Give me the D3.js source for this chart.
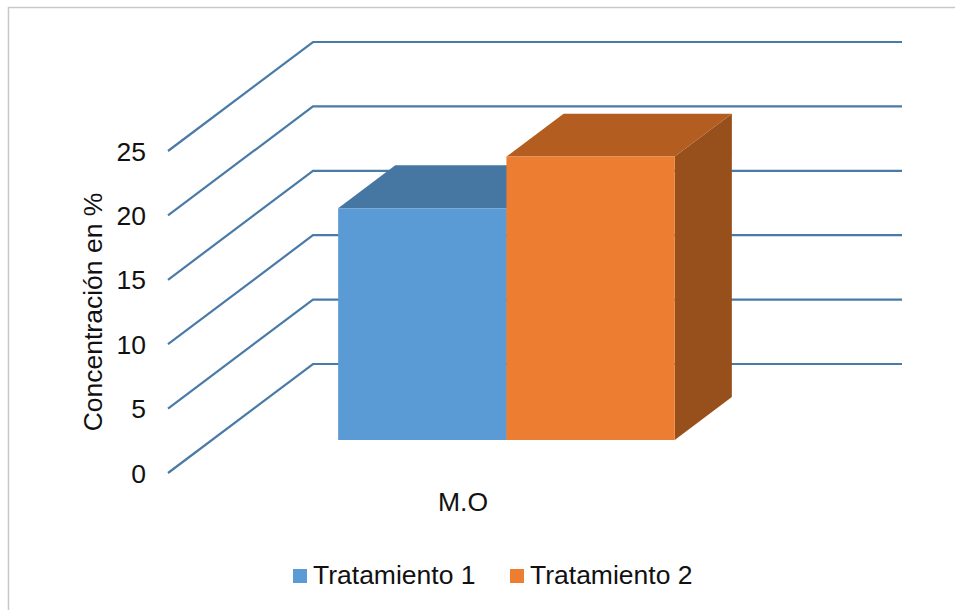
<!DOCTYPE html>
<html><head><meta charset="utf-8">
<script src="https://cdn.jsdelivr.net/npm/d3@7"></script>
<style>html,body{margin:0;padding:0;background:#fff}svg{display:block}text{font-family:"Liberation Sans",Arial,sans-serif;fill:#111}</style>
</head><body><svg id="c" width="955" height="610"></svg>
<script>
const categories = ["M.O"];
const seriesNames = ["Tratamiento 1", "Tratamiento 2"];
const tratamiento1 = [18];
const tratamiento2 = [22];
const tickValues = [0, 5, 10, 15, 20, 25];
const axisTitle = "Concentración en %";
const faceColors = ["#5b9bd5", "#ed7d31"];
const topColors = ["#4676a2", "#b35e20"];
const sideColors = ["#3d6a94", "#97501b"];

const svg = d3.select("#c");
const W = 955, H = 610;
svg.append("rect").attr("width", W).attr("height", H).attr("fill", "#fff");
svg.append("path").attr("d", "M8.5 610V7.5H955").attr("fill", "none").attr("stroke", "#c8c8c8").attr("stroke-width", 1.5);

const y = d3.scaleLinear().domain([0, 25]).range([473, 151]);
const x = d3.scaleLinear().domain([0, 1]).range([168, 757]);
const band = d3.scaleBand().domain(categories).range([0, 1]);
const inner = d3.scaleBand().domain(seriesNames).range([0, band.bandwidth()]).paddingOuter(0.75).paddingInner(0);
const depth = d3.scaleLinear().domain([0, 1]);
const dx = depth.copy().range([0, 145]);
const dy = depth.copy().range([0, -109]);
const px = (u, z) => x(u) + dx(z);
const py = (v, z) => y(v) + dy(z);

const line = d3.line();
svg.append("g").selectAll("path").data(tickValues).join("path")
  .attr("d", v => line([[px(0, 0), py(v, 0)], [px(0, 1), py(v, 1)], [px(1, 1), py(v, 1)]]))
  .attr("fill", "none").attr("stroke", "#4a7ba8").attr("stroke-width", 2.2);

const zFront = 0.303, zBack = 0.697;
const poly = pts => "M" + pts.map(p => p.join(",")).join("L") + "Z";
const data = [tratamiento1[0], tratamiento2[0]];
const bars = svg.append("g");
data.forEach((v, i) => {
  const name = seriesNames[i];
  const u0 = inner(name), u1 = u0 + inner.bandwidth();
  const side = [[px(u1, zFront), py(0, zFront)], [px(u1, zBack), py(0, zBack)], [px(u1, zBack), py(v, zBack)], [px(u1, zFront), py(v, zFront)]];
  const top = [[px(u0, zFront), py(v, zFront)], [px(u0, zBack), py(v, zBack)], [px(u1, zBack), py(v, zBack)], [px(u1, zFront), py(v, zFront)]];
  const front = [[px(u0, zFront), py(0, zFront)], [px(u1, zFront), py(0, zFront)], [px(u1, zFront), py(v, zFront)], [px(u0, zFront), py(v, zFront)]];
  bars.append("path").attr("d", poly(side)).attr("fill", sideColors[i]);
  bars.append("path").attr("d", poly(top)).attr("fill", topColors[i]);
  bars.append("path").attr("d", poly(front)).attr("fill", faceColors[i]);
});

svg.append("g").selectAll("text").data(tickValues).join("text")
  .attr("x", 146).attr("y", v => y(v) + 9.5).attr("text-anchor", "end")
  .attr("font-size", 26.5).text(d => d);

svg.append("text").attr("transform", "translate(102,312) rotate(-90)")
  .attr("text-anchor", "middle").attr("font-size", 26.5).text(axisTitle);

svg.append("text").attr("x", 463).attr("y", 511).attr("text-anchor", "middle")
  .attr("font-size", 26.5).text(categories[0]);

const legendX = [293, 510];
seriesNames.forEach((n, i) => {
  svg.append("rect").attr("x", legendX[i]).attr("y", 569).attr("width", 14).attr("height", 14).attr("fill", faceColors[i]);
  svg.append("text").attr("x", legendX[i] + 20).attr("y", 584).attr("font-size", 26.5).text(n);
});
</script></body></html>
